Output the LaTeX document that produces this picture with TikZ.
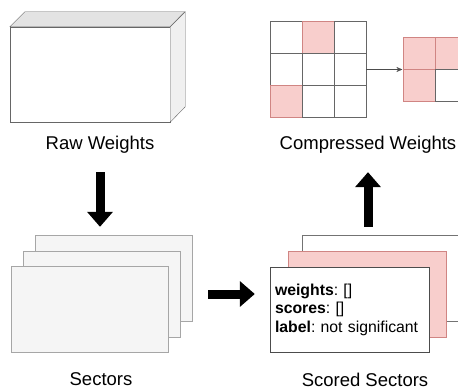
\documentclass[tikz,border=0pt]{standalone}
\usepackage{fontspec}
\setmainfont{Liberation Sans}
\usepackage{xcolor}
\usepackage{tikz}
\usetikzlibrary{matrix,calc,arrows.meta}
\definecolor{pinkfill}{HTML}{F8CECC}
\definecolor{pinkline}{HTML}{D08583}
\definecolor{sectfill}{HTML}{F5F5F5}
\definecolor{sectline}{HTML}{A6A6A6}

\begin{document}
\begin{tikzpicture}[x=1pt,y=1pt,
        lbl/.style={font=\fontsize{18.5}{22}\selectfont},
        sheet/.style={draw=sectline,fill=sectfill,minimum width=157pt,minimum height=86pt,inner sep=0pt},
        fat/.style={line width=9pt,-{Triangle[length=15pt,width=25pt]}},
        cell/.style={draw=black!60,minimum size=32pt,inner sep=0pt},
        hot/.style={fill=pinkfill,draw=pinkline}]
        \useasboundingbox (0,0) rectangle (458,389);
        \clip (0,0) rectangle (458,389);

        \node (rw) [draw=black!60,fill=white,minimum width=160pt,minimum height=95pt,inner sep=0pt] at (90,314.5) {};
        \draw[black!60,fill=black!11] (rw.north west) -- ++(15,15) -- ++(160,0) -- (rw.north east) -- cycle;
        \draw[black!60,fill=black!6] (rw.north east) -- ++(15,15) -- ++(0,-95) -- (rw.south east) -- cycle;
        \node (rwl) [lbl] at (100,244) {Raw Weights};

        \node (s3) [sheet] at (113.5,111) {};
        \node (s2) [sheet] at ($(s3)+(-12,-16)$) {};
        \node (s1) [sheet] at ($(s2)+(-12,-15.5)$) {};
        \node (sl) [lbl] at (101,9.5) {Sectors};

        \node (ss3) [draw=black!55,fill=white,minimum width=168pt,minimum height=86pt,inner sep=0pt] at (386,111) {};
        \node (ss2) [hot,minimum width=158pt,minimum height=86pt,inner sep=0pt] at (367,95) {};
        \node (ss1) [draw=black!70,fill=white,minimum width=159pt,minimum height=85pt,text width=149pt,inner sep=5pt,align=left,font=\fontsize{15.8}{18.5}\selectfont\frenchspacing] at (349.5,79.5)
        {\textbf{weights}: []\\ \textbf{scores}: []\\ \textbf{label}: not significant};
        \node (ssl) [lbl] at (365,9.5) {Scored Sectors};

        \matrix (mW) [matrix of nodes,nodes in empty cells,nodes={cell},column sep=-0.4pt,row sep=-0.4pt,inner sep=0pt] at (318,319.5)
        {
            & |[hot]| & \\
            & & \\
            |[hot]| & & \\
        };

        \matrix (mC) [matrix of nodes,nodes in empty cells,nodes={cell},column sep=-0.4pt,row sep=-0.4pt,inner sep=0pt,anchor=west] at ($(mW.east)+(36,0)$)
        {
            |[hot]| & |[hot]| \\
            |[hot]| & \\
        };
        \node (cwl) [lbl] at (368,244) {Compressed Weights};

        \draw[black!70,-{Stealth[length=6pt,width=5pt]}] (mW.east) -- (mC.west);
        \draw[fat,shorten <=15pt,shorten >=8pt] (rwl.south) -- (rwl.south |- s3.north);
        \draw[fat,shorten <=28pt,shorten >=15pt] (s2.east) -- (ss1.west |- s2.east);
        \draw[fat,shorten <=8pt,shorten >=15pt] (cwl.south |- ss3.north) -- (cwl.south);
    \end{tikzpicture}
\end{document}
